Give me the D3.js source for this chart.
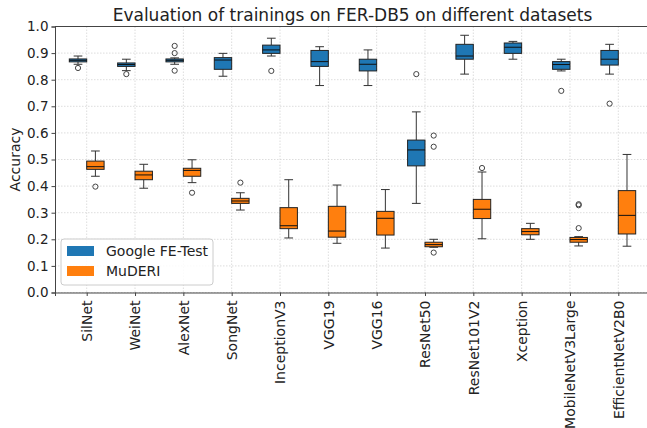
<!DOCTYPE html>
<html>
<head>
<meta charset="utf-8">
<script src="https://cdn.jsdelivr.net/npm/d3@7"></script>
<style>
  body { margin: 0; background: #fff; }
  text { font-family: "DejaVu Sans", sans-serif; fill: #222; }
</style>
</head>
<body>
<div class="chart"></div>
<script>
var svgWidth = 647;
var svgHeight = 428;

// plot area (right edge runs past the picture, as in the reference)
var margin = { top: 26.5, left: 55, bottom: 135.5 };
var plotRight = 650;
var height = svgHeight - margin.top - margin.bottom;

var models = ["SilNet", "WeiNet", "AlexNet", "SongNet", "InceptionV3", "VGG19", "VGG16",
  "ResNet50", "ResNet101V2", "Xception", "MobileNetV3Large", "EfficientNetV2B0"];

// Google FE-Test
var googleLo  = [0.858, 0.834, 0.858, 0.813, 0.889, 0.778, 0.778, 0.335, 0.821, 0.877, 0.833, 0.821];
var googleQ1  = [0.867, 0.850, 0.867, 0.839, 0.899, 0.850, 0.833, 0.476, 0.877, 0.899, 0.839, 0.855];
var googleMed = [0.873, 0.857, 0.873, 0.874, 0.912, 0.868, 0.858, 0.536, 0.889, 0.922, 0.857, 0.877];
var googleQ3  = [0.878, 0.863, 0.878, 0.883, 0.930, 0.910, 0.877, 0.573, 0.933, 0.938, 0.868, 0.910];
var googleHi  = [0.889, 0.877, 0.882, 0.899, 0.956, 0.924, 0.912, 0.679, 0.967, 0.944, 0.877, 0.933];
var googleOut = [[0.844], [0.821], [0.927, 0.900, 0.834], [], [0.833], [], [], [0.821], [], [], [0.758], [0.710]];

// MuDERI
var muderiLo  = [0.437, 0.392, 0.413, 0.310, 0.205, 0.185, 0.167, 0.170, 0.202, 0.200, 0.175, 0.174];
var muderiQ1  = [0.463, 0.424, 0.437, 0.335, 0.240, 0.208, 0.216, 0.172, 0.278, 0.217, 0.189, 0.220];
var muderiMed = [0.473, 0.442, 0.459, 0.344, 0.251, 0.231, 0.279, 0.180, 0.313, 0.229, 0.199, 0.290];
var muderiQ3  = [0.494, 0.456, 0.467, 0.354, 0.319, 0.324, 0.305, 0.189, 0.350, 0.240, 0.207, 0.383];
var muderiHi  = [0.532, 0.482, 0.499, 0.375, 0.424, 0.404, 0.387, 0.200, 0.453, 0.260, 0.210, 0.519];
var muderiOut = [[0.398], [], [0.375], [0.413], [], [], [], [0.590, 0.548, 0.150], [0.468], [], [0.332, 0.328, 0.242], []];

var yTicks = [0.0, 0.1, 0.2, 0.3, 0.4, 0.5, 0.6, 0.7, 0.8, 0.9, 1.0];

var seriesNames = ["Google FE-Test", "MuDERI"];
var seriesColors = ["#1f77b4", "#ff7f0e"];

var svg = d3.select(".chart").append("svg")
  .attr("width", svgWidth)
  .attr("height", svgHeight);

// x positions: model index, tick spacing ~48.3px
var xScale = d3.scaleLinear()
  .domain([-0.656, models.length - 1 + 0.656])
  .range([margin.left, plotRight]);

var yScale = d3.scaleLinear()
  .domain([0, 1])
  .range([margin.top + height, margin.top]);

var boxOffset = 0.18;
var boxW = xScale(0.36) - xScale(0);

// grid
var grid = svg.append("g");
grid.selectAll(".gy").data(yTicks).enter().append("line")
  .attr("x1", margin.left).attr("x2", plotRight)
  .attr("y1", d => yScale(d)).attr("y2", d => yScale(d))
  .attr("stroke", "#d4d4d4").attr("stroke-width", 0.8).attr("stroke-dasharray", "1.5,1.5");
grid.selectAll(".gx").data(models).enter().append("line")
  .attr("x1", (d, i) => xScale(i)).attr("x2", (d, i) => xScale(i))
  .attr("y1", margin.top).attr("y2", margin.top + height)
  .attr("stroke", "#d4d4d4").attr("stroke-width", 0.8).attr("stroke-dasharray", "1.5,1.5");

// build box data
var boxes = [];
models.forEach(function (m, i) {
  boxes.push({ i: i, s: 0, lo: googleLo[i], q1: googleQ1[i], med: googleMed[i], q3: googleQ3[i], hi: googleHi[i], out: googleOut[i] });
  boxes.push({ i: i, s: 1, lo: muderiLo[i], q1: muderiQ1[i], med: muderiMed[i], q3: muderiQ3[i], hi: muderiHi[i], out: muderiOut[i] });
});

var boxGroup = svg.append("g");
var bx = boxGroup.selectAll("g").data(boxes).enter().append("g")
  .attr("transform", d => `translate(${xScale(d.i + (d.s === 0 ? -boxOffset : boxOffset))},0)`);

// whiskers
bx.append("line")
  .attr("x1", 0).attr("x2", 0)
  .attr("y1", d => yScale(d.hi)).attr("y2", d => yScale(d.q3))
  .attr("stroke", "#333").attr("stroke-width", 1);
bx.append("line")
  .attr("x1", 0).attr("x2", 0)
  .attr("y1", d => yScale(d.q1)).attr("y2", d => yScale(d.lo))
  .attr("stroke", "#333").attr("stroke-width", 1);
// caps
bx.append("line")
  .attr("x1", -boxW / 4).attr("x2", boxW / 4)
  .attr("y1", d => yScale(d.hi)).attr("y2", d => yScale(d.hi))
  .attr("stroke", "#333").attr("stroke-width", 1);
bx.append("line")
  .attr("x1", -boxW / 4).attr("x2", boxW / 4)
  .attr("y1", d => yScale(d.lo)).attr("y2", d => yScale(d.lo))
  .attr("stroke", "#333").attr("stroke-width", 1);
// box
bx.append("rect")
  .attr("x", -boxW / 2).attr("width", boxW)
  .attr("y", d => yScale(d.q3))
  .attr("height", d => yScale(d.q1) - yScale(d.q3))
  .attr("fill", d => seriesColors[d.s])
  .attr("stroke", "#222").attr("stroke-width", 1);
// median
bx.append("line")
  .attr("x1", -boxW / 2).attr("x2", boxW / 2)
  .attr("y1", d => yScale(d.med)).attr("y2", d => yScale(d.med))
  .attr("stroke", "#111").attr("stroke-width", 1);
// outliers
bx.selectAll("circle").data(d => d.out).enter().append("circle")
  .attr("cx", 0).attr("cy", d => yScale(d))
  .attr("r", 2.6)
  .attr("fill", "none").attr("stroke", "#444").attr("stroke-width", 1);

// axes
var leftAxis = d3.axisLeft(yScale).tickValues(yTicks).tickFormat(d3.format(".1f")).tickSize(3.5).tickPadding(3);
var yAxis = svg.append("g")
  .attr("transform", `translate(${margin.left},0)`)
  .call(leftAxis);
yAxis.selectAll("text").style("font-size", "13.5px").attr("fill", "#222");

var bottomAxis = d3.axisBottom(xScale)
  .tickValues(d3.range(models.length))
  .tickFormat(i => models[i])
  .tickSize(3.5).tickPadding(4);
var xAxis = svg.append("g")
  .attr("transform", `translate(0,${margin.top + height})`)
  .call(bottomAxis);
xAxis.selectAll("text")
  .style("font-size", "14px")
  .attr("fill", "#222")
  .attr("text-anchor", "end")
  .attr("transform", "rotate(-90)")
  .attr("x", -8).attr("y", 0).attr("dy", "0.35em");

svg.selectAll(".domain").attr("stroke", "#444");
svg.selectAll(".tick line").attr("stroke", "#444");

// top spine
svg.append("line")
  .attr("x1", margin.left).attr("x2", plotRight)
  .attr("y1", margin.top).attr("y2", margin.top)
  .attr("stroke", "#444");

// title
svg.append("text")
  .attr("x", (margin.left + plotRight) / 2)
  .attr("y", 21)
  .attr("text-anchor", "middle")
  .style("font-size", "17px")
  .text("Evaluation of trainings on FER-DB5 on different datasets");

// y label
svg.append("text")
  .attr("transform", `translate(20,${yScale(0.5)}) rotate(-90)`)
  .attr("text-anchor", "middle")
  .style("font-size", "14px")
  .text("Accuracy");

// legend
var legend = svg.append("g").attr("transform", "translate(61,239)");
legend.append("rect")
  .attr("width", 152).attr("height", 46).attr("rx", 3)
  .attr("fill", "#fff").attr("fill-opacity", 0.85)
  .attr("stroke", "#ccc");
var li = legend.selectAll(".li").data(seriesNames).enter().append("g")
  .attr("transform", (d, i) => `translate(6,${7 + i * 20})`);
li.append("rect")
  .attr("width", 27).attr("height", 10)
  .attr("fill", (d, i) => seriesColors[i]);
li.append("text")
  .attr("x", 39).attr("y", 10)
  .style("font-size", "14px")
  .text(d => d);
</script>
</body>
</html>
